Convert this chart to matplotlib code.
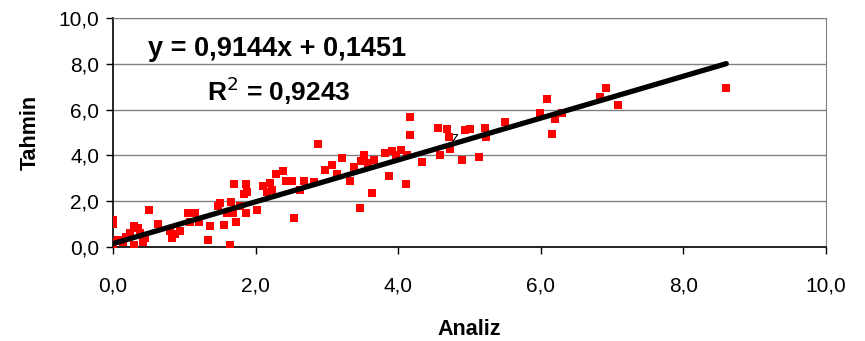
import matplotlib
matplotlib.use("Agg")
import matplotlib.pyplot as plt
from matplotlib.ticker import FuncFormatter

plt.rcParams["font.family"] = ["Liberation Sans", "DejaVu Sans"]

# Analiz vs Tahmin values
analiz = [0.0, 0.0, 0.0, 0.0, 0.07, 0.14, 0.18, 0.24, 0.3, 0.3, 0.35, 0.38, 0.42, 0.45,
          0.5, 0.63, 0.8, 0.83, 0.87, 0.94, 1.05, 1.08, 1.15, 1.2, 1.33, 1.36, 1.47, 1.5,
          1.56, 1.6, 1.64, 1.65, 1.68, 1.7, 1.72, 1.78, 1.84, 1.87, 1.88, 1.87, 2.02, 2.1,
          2.16, 2.2, 2.23, 2.29, 2.38, 2.43, 2.51, 2.54, 2.62, 2.68, 2.82, 2.88, 2.97, 3.07,
          3.14, 3.21, 3.32, 3.38, 3.46, 3.48, 3.52, 3.58, 3.63, 3.66, 3.81, 3.87, 3.91, 3.97,
          4.04, 4.11, 4.12, 4.17, 4.17, 4.33, 4.56, 4.58, 4.68, 4.71, 4.73, 4.89, 4.94, 5.0,
          5.13, 5.22, 5.23, 5.5, 5.99, 6.09, 6.16, 6.2, 6.3, 6.83, 6.91, 7.08, 8.6]
tahmin = [1.2, 1.0, 0.2, 0.1, 0.3, 0.2, 0.45, 0.6, 0.9, 0.1, 0.85, 0.6, 0.2, 0.4,
          1.6, 1.0, 0.7, 0.4, 0.55, 0.7, 1.5, 1.1, 1.5, 1.1, 0.3, 0.9, 1.8, 1.9,
          0.95, 1.5, 0.1, 1.95, 1.5, 2.75, 1.1, 1.8, 2.3, 2.75, 2.4, 1.5, 1.6, 2.65,
          2.4, 2.8, 2.5, 3.2, 3.3, 2.9, 2.9, 1.25, 2.5, 2.9, 2.85, 4.5, 3.35, 3.6,
          3.2, 3.9, 2.9, 3.5, 1.7, 3.75, 4.0, 3.65, 2.35, 3.8, 4.1, 3.1, 4.2, 4.0,
          4.25, 2.75, 4.0, 4.9, 5.7, 3.7, 5.2, 4.0, 5.15, 4.8, 4.3, 3.8, 5.1, 5.15,
          3.95, 5.2, 4.8, 5.45, 5.85, 6.45, 4.95, 5.6, 5.85, 6.55, 6.95, 6.2, 6.95]

slope = 0.9144
intercept = 0.1451
r2 = 0.9243

fig = plt.figure(figsize=(8.65, 3.41), dpi=100)
ax = fig.add_axes([0.1306, 0.2757, 0.8244, 0.6713])

ax.scatter(analiz, tahmin, marker="s", s=30, color="#ff0000", linewidths=0, zorder=3)

# trend line over the data range
x_line = [min(analiz), max(analiz)]
y_line = [slope * x + intercept for x in x_line]
ax.plot(x_line, y_line, color="black", linewidth=3.8, solid_capstyle="round", zorder=4)

ax.set_xlim(0, 10)
ax.set_ylim(0, 10)
ax.set_xticks([0, 2, 4, 6, 8, 10])
ax.set_yticks([0, 2, 4, 6, 8, 10])
fmt = FuncFormatter(lambda v, p: f"{v:.1f}".replace(".", ","))
ax.xaxis.set_major_formatter(fmt)
ax.yaxis.set_major_formatter(fmt)
ax.tick_params(direction="out", length=5, width=1, labelsize=15, colors="black")
ax.tick_params(axis="x", pad=16)
ax.tick_params(axis="y", pad=5)

ax.grid(axis="y", color="#808080", linewidth=1)
ax.set_axisbelow(True)
for side in ["top", "right"]:
    ax.spines[side].set_color("#808080")
for side in ["left", "bottom"]:
    ax.spines[side].set_color("black")
    ax.spines[side].set_linewidth(1.2)

ax.set_xlabel("Analiz", fontsize=15.5, fontweight="bold", labelpad=17)
ax.set_ylabel("Tahmin", fontsize=15.5, fontweight="bold", labelpad=13)

ax.text(0.49, 8.65, "y = 0,9144x + 0,1451", fontsize=19.5, fontweight="bold", va="center")
ax.text(1.32, 6.84, "R$^2$ = 0,9243", fontsize=19, fontweight="bold", va="center")
ax.text(4.8, 4.75, "z", fontsize=10, va="center", ha="center")

plt.savefig("out.png", dpi=100)
